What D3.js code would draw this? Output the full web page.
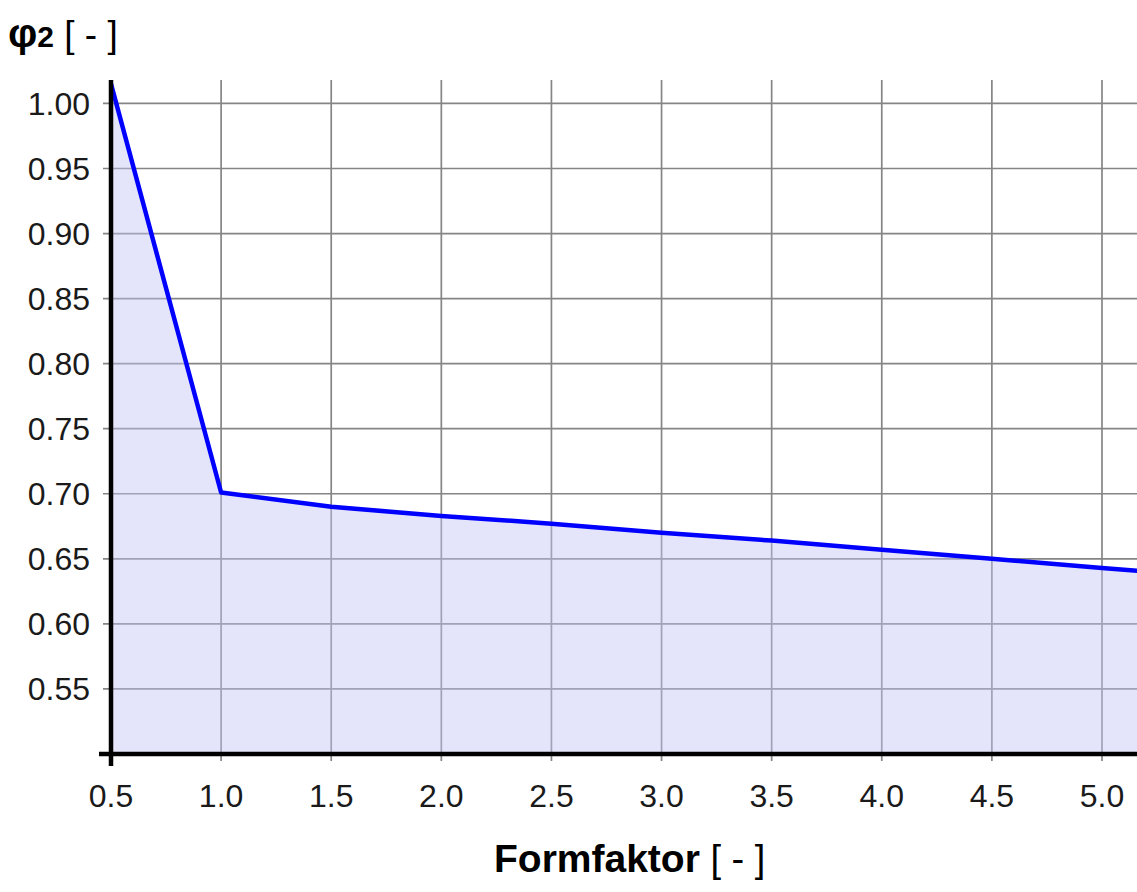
<!DOCTYPE html>
<html>
<head>
<meta charset="utf-8">
<script src="https://cdn.jsdelivr.net/npm/d3@7"></script>
<style>
  html, body { margin: 0; padding: 0; background: #fff; }
  svg { display: block; font-family: "Liberation Sans", Arial, sans-serif; }
</style>
</head>
<body>
<div id="chart"></div>
<script>
const formfaktor = [0.5, 1.0, 1.5, 2.0, 2.5, 3.0, 3.5, 4.0, 4.5, 5.0, 5.5];
const phi2 = [1.015, 0.701, 0.690, 0.683, 0.677, 0.670, 0.664, 0.657, 0.650, 0.643, 0.636];
const xTicks = [0.5, 1.0, 1.5, 2.0, 2.5, 3.0, 3.5, 4.0, 4.5, 5.0];
const yTicks = [0.55, 0.60, 0.65, 0.70, 0.75, 0.80, 0.85, 0.90, 0.95, 1.00];

const drawChart = function () {
    const width = 1137;
    const height = 892;
    const left = 111, right = 1137, top = 80, bottom = 754;

    const x = d3.scaleLinear().domain([0.5, 5.159]).range([left, right]);
    const y = d3.scaleLinear().domain([0.5, 1.018]).range([bottom, top]);

    const points = formfaktor.map((f, i) => ({ f: f, v: phi2[i] }));

    const svg = d3.select('#chart').append('svg')
        .attr('width', width)
        .attr('height', height);

    svg.append('clipPath')
        .attr('id', 'plot-clip')
        .append('rect')
        .attr('x', left)
        .attr('y', top)
        .attr('width', right - left)
        .attr('height', bottom - top);

    // grid
    const grid = svg.append('g');
    grid.selectAll('line.h')
        .data(yTicks)
        .enter().append('line')
        .attr('class', 'h')
        .attr('x1', left - 8)
        .attr('x2', right)
        .attr('y1', d => y(d))
        .attr('y2', d => y(d))
        .style('stroke', '#858585')
        .style('stroke-width', 1.7);
    grid.selectAll('line.v')
        .data(xTicks.slice(1))
        .enter().append('line')
        .attr('class', 'v')
        .attr('x1', d => x(d))
        .attr('x2', d => x(d))
        .attr('y1', top)
        .attr('y2', bottom + 7)
        .style('stroke', '#858585')
        .style('stroke-width', 1.7);

    const plot = svg.append('g').attr('clip-path', 'url(#plot-clip)');

    const area = d3.area()
        .x(d => x(d.f))
        .y0(y(0.5))
        .y1(d => y(d.v));

    const line = d3.line()
        .x(d => x(d.f))
        .y(d => y(d.v));

    plot.append('path')
        .datum(points)
        .attr('d', area)
        .style('fill', 'rgba(195,195,245,0.45)')
        .style('stroke', 'none');

    plot.append('path')
        .datum(points)
        .attr('d', line)
        .style('fill', 'none')
        .style('stroke', '#0000ff')
        .style('stroke-width', 4.5)
        .style('stroke-linejoin', 'round');

    // axes
    svg.append('line')
        .attr('x1', left - 12).attr('x2', right)
        .attr('y1', bottom).attr('y2', bottom)
        .style('stroke', '#000').style('stroke-width', 4.5);
    svg.append('line')
        .attr('x1', left).attr('x2', left)
        .attr('y1', top).attr('y2', bottom + 12)
        .style('stroke', '#000').style('stroke-width', 4.5);

    svg.append('g').selectAll('text')
        .data(xTicks)
        .enter().append('text')
        .attr('x', d => x(d))
        .attr('y', 807)
        .attr('text-anchor', 'middle')
        .style('font-size', '32px')
        .style('fill', '#1a1a1a')
        .text(d => d.toFixed(1));

    svg.append('g').selectAll('text')
        .data(yTicks)
        .enter().append('text')
        .attr('x', 90)
        .attr('y', d => y(d) + 11.5)
        .attr('text-anchor', 'end')
        .style('font-size', '32px')
        .style('fill', '#1a1a1a')
        .text(d => d.toFixed(2));

    // titles
    const yTitle = svg.append('text')
        .attr('x', 8)
        .attr('y', 47)
        .style('fill', '#000');
    yTitle.append('tspan')
        .style('font-size', '41px')
        .style('font-weight', 'bold')
        .text('φ');
    yTitle.append('tspan')
        .style('font-size', '30px')
        .style('font-weight', 'bold')
        .text('2');
    yTitle.append('tspan')
        .style('font-size', '37px')
        .text(' [ - ]');

    const xTitle = svg.append('text')
        .attr('x', 494)
        .attr('y', 872)
        .style('fill', '#000');
    xTitle.append('tspan')
        .style('font-size', '39px')
        .style('font-weight', 'bold')
        .text('Formfaktor');
    xTitle.append('tspan')
        .style('font-size', '38px')
        .text(' [ - ]');
};

drawChart();
</script>
</body>
</html>
